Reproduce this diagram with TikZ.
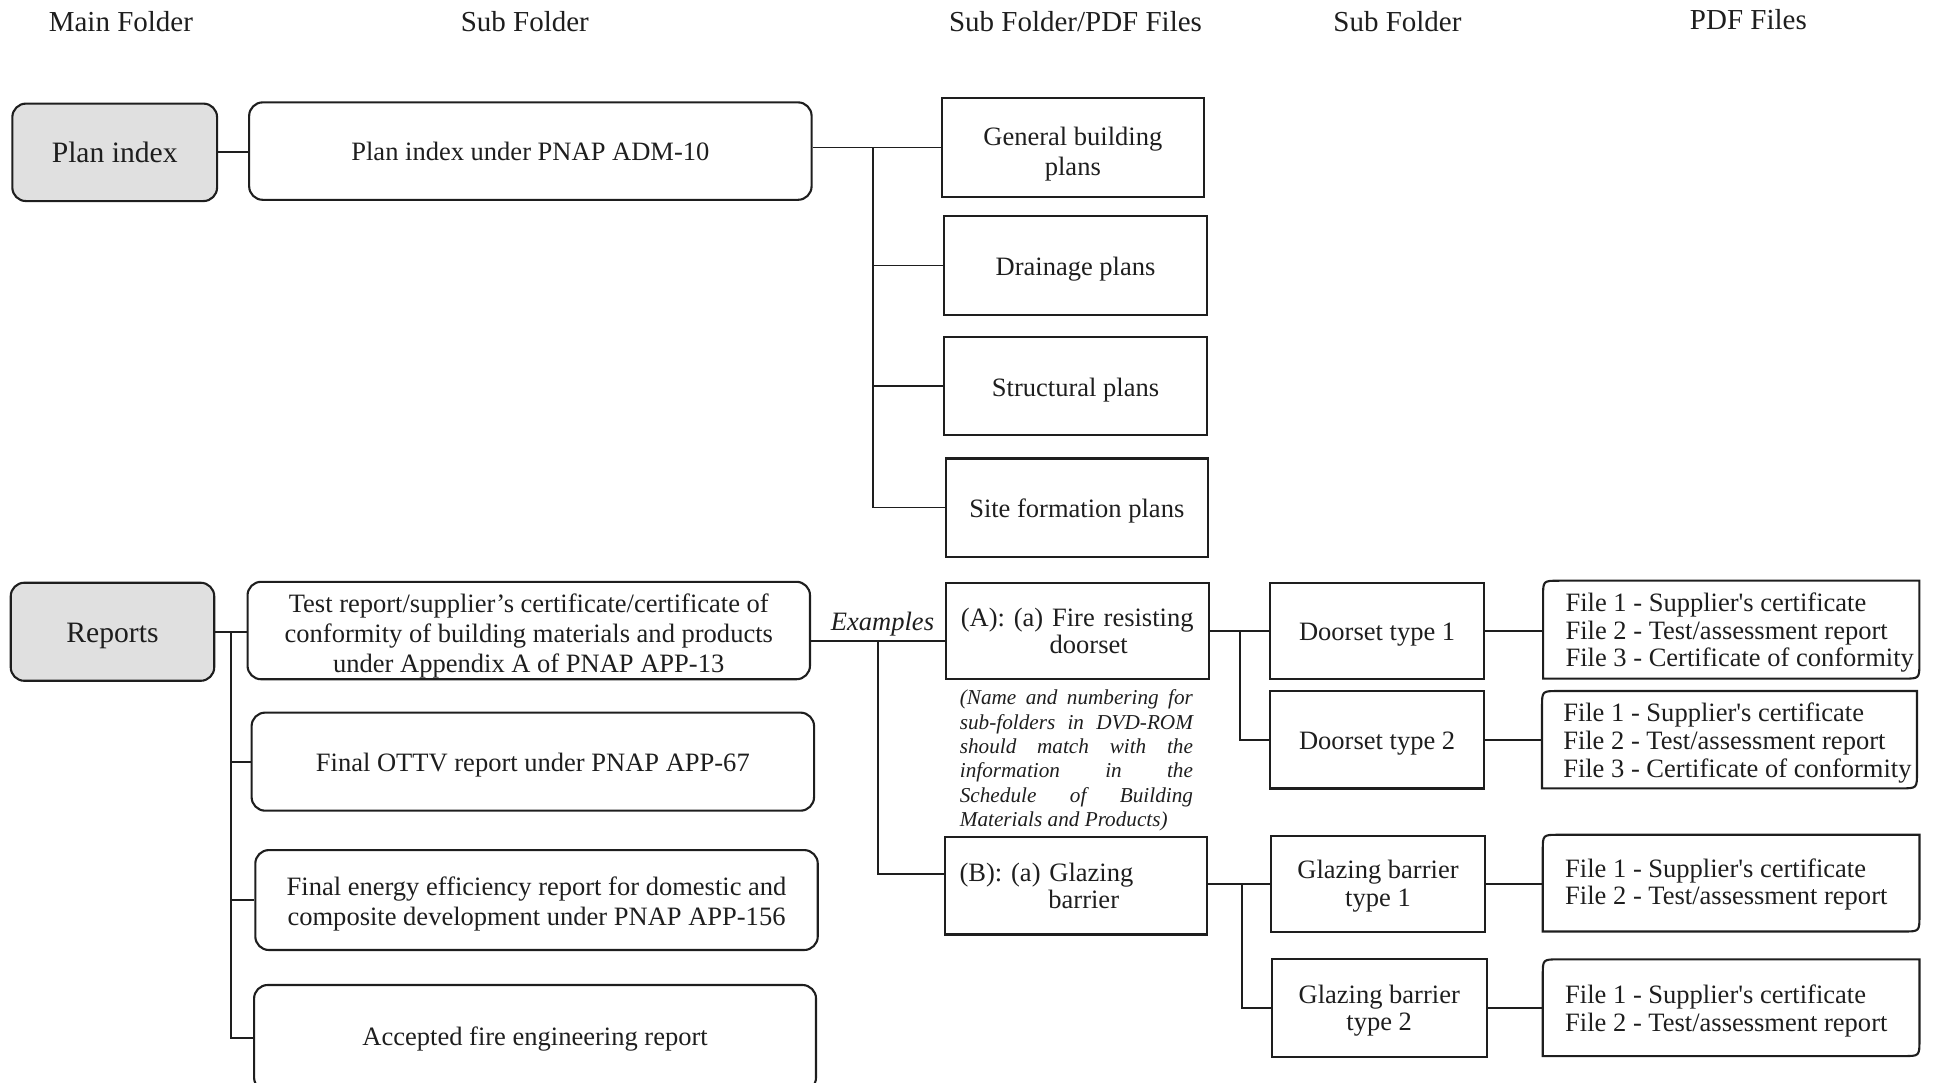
\documentclass[tikz,border=0pt]{standalone}
\usepackage{fontspec}
\setmainfont{Liberation Serif}
\newfontfamily\plainserif{Liberation Serif}
\usetikzlibrary{calc}
\definecolor{boxgray}{RGB}{224,224,224}
\definecolor{ink}{RGB}{30,30,30}
\newcommand{\mylift}[1]{\rule{0pt}{#1}}
\begin{document}
\begin{tikzpicture}[x=1pt,y=-1pt,
  txt/.style={font=\fontsize{21.5}{24.3}\selectfont, text=ink},
  rbox/.style={draw=ink, line width=1.7pt, rounded corners=11pt, inner sep=0pt, align=center, txt},
  gbox/.style={rbox, fill=boxgray, font=\fontsize{24}{26}\selectfont},
  sbox/.style={draw=ink, line width=1.8pt, inner sep=0pt, align=center, txt},
  fbox/.style={draw=none, inner sep=0pt},
  ftext/.style={font=\plainserif\fontsize{21.5}{22.5}\selectfont, text=ink, align=left, inner sep=0pt, anchor=west},
  conn/.style={draw=ink, line width=1.5pt},
  hdr/.style={font=\fontsize{23.5}{26}\selectfont, text=ink, inner sep=0pt, anchor=base},
  fshape/.style={draw=ink, line width=1.7pt},
]
\useasboundingbox (0,0) rectangle (1568,878);
\clip (0,0) rectangle (1568,878);

% headers
\node[hdr] (h1) at (98,25.2) {Main Folder};
\node[hdr] (h2) at (425.5,25.2) {Sub Folder};
\node[hdr] (h3) at (872,25.2) {Sub Folder/PDF Files};
\node[hdr] (h4) at (1133,25.2) {Sub Folder};
\node[hdr] (h5) at (1417.5,24.2) {PDF Files};

% plan index branch
\node[gbox, minimum width=166pt, minimum height=79pt] (pi) at (93,123.5) {Plan index};
\node[rbox, minimum width=456pt, minimum height=79pt] (pisub) at (430,122.5) {Plan index under PNAP ADM-10};
\node[sbox, minimum width=212.5pt, minimum height=80pt] (gbp) at (869.8,119.6) {\mylift{25pt}General building\\plans};
\node[sbox, minimum width=212.8pt, minimum height=80.4pt] (dr) at (872,215.2) {\mylift{21pt}Drainage plans};
\node[sbox, minimum width=212.8pt, minimum height=79.7pt] (st) at (872,312.9) {\mylift{21pt}Structural plans};
\node[sbox, minimum width=212.7pt, minimum height=79.7pt] (sf) at (873,411.5) {\mylift{21pt}Site formation plans};
\coordinate (ptr) at (707.5,119.6);

\draw[conn] (pi.east) -- (pi.east -| pisub.west);
\draw[conn] (pisub.east |- gbp.west) -- (gbp.west);
\draw[conn] (ptr |- gbp.west) -- (ptr |- sf.west) -- (sf.west);
\draw[conn] (ptr |- dr.west) -- (dr.west);
\draw[conn] (ptr |- st.west) -- (st.west);

% reports branch
\node[gbox, minimum width=165pt, minimum height=79.5pt] (rep) at (91.2,512.2) {\mylift{22pt}Reports};
\node[rbox, minimum width=456pt, minimum height=79pt] (test) at (428.7,511.2) {\mylift{24pt}Test report/supplier’s certificate/certificate of\\conformity of building materials and products\\under Appendix A of PNAP APP-13};
\node[rbox, minimum width=456pt, minimum height=79.5pt] (ottv) at (432,617.5) {\mylift{21pt}Final OTTV report under PNAP APP-67};
\node[rbox, minimum width=456pt, minimum height=81pt] (energy) at (435,729.7) {\mylift{21pt}Final energy efficiency report for domestic and\\composite development under PNAP APP-156};
\node[rbox, minimum width=455.6pt, minimum height=86pt] (acc) at (433.8,841.6) {\mylift{17pt}Accepted fire engineering report};
\coordinate (rtr) at (187.6,510.8);

\draw[conn] (rep.east) -- (rep.east -| test.west);
\draw[conn] (rtr |- rep.east) -- (rtr |- acc.west) -- (acc.west);
\draw[conn] (rtr |- ottv.west) -- (ottv.west);
\draw[conn] (rtr |- energy.west) -- (energy.west);

% examples
\node[sbox, minimum width=213pt, minimum height=78pt, text width=189pt, inner xsep=12pt, align=left, font=\fontsize{21.5}{21.8}\selectfont] (A) at (873.5,511.5) {(A): (a) Fire resisting\\\hspace*{72pt}doorset};
\node[sbox, minimum width=212.6pt, minimum height=79.2pt, text width=188.6pt, inner xsep=12pt, align=left, font=\fontsize{21.5}{21.8}\selectfont] (B) at (872.3,718.1) {(B): (a) Glazing\\\hspace*{72pt}barrier};
\node[txt, font=\fontsize{21.5}{24}\selectfont\itshape, inner sep=0pt, anchor=base] (exl) at (715.5,510.8) {Examples};
\node[font=\fontsize{17.2}{19.75}\selectfont\itshape, text=ink, inner sep=0pt, align=left] (note) at (872.7,616.5)
 {\makebox[189pt][s]{(Name and numbering for}\\
  \makebox[189pt][s]{sub-folders in DVD-ROM}\\
  \makebox[189pt][s]{should match with the}\\
  \makebox[189pt][s]{information in the}\\
  \makebox[189pt][s]{Schedule of Building}\\
  Materials and Products)};
\coordinate (ex) at (711.6,519.5);
\coordinate (exb) at (711.6,708.6);
\draw[conn] (test.east |- ex) -- (A.west |- ex);
\draw[conn] (ex) -- (exb) -- (B.west |- exb);

% doorsets
\node[sbox, minimum width=173.7pt, minimum height=78pt] (d1) at (1116.5,511.4) {\mylift{20pt}Doorset type 1};
\node[sbox, minimum width=173.7pt, minimum height=79pt] (d2) at (1116.5,599.7) {\mylift{20pt}Doorset type 2};
\node[sbox, minimum width=173.7pt, minimum height=78pt, font=\fontsize{21.5}{22.2}\selectfont] (g1) at (1117.2,716.5) {\mylift{19pt}Glazing barrier\\type 1};
\node[sbox, minimum width=174.4pt, minimum height=79pt, font=\fontsize{21.5}{22.2}\selectfont] (g2) at (1118.2,817.2) {\mylift{19pt}Glazing barrier\\type 2};
\coordinate (dtr) at (1005.3,511.3);
\coordinate (gtr) at (1006.7,716.7);
\draw[conn] (A.east) -- (A.east -| d1.west);
\draw[conn] (dtr |- A.east) -- (dtr |- d2.west) -- (d2.west);
\draw[conn] (B.east |- g1.west) -- (g1.west);
\draw[conn] (gtr |- g1.west) -- (gtr |- g2.west) -- (g2.west);

% pdf file boxes
\node[fbox, minimum width=304.7pt, minimum height=79pt] (f1) at (1403.6,510.5) {};
\node[fbox, minimum width=303.6pt, minimum height=78.5pt] (f2) at (1402.2,599.7) {};
\node[fbox, minimum width=305pt, minimum height=78pt] (f3) at (1403.5,716) {};
\node[fbox, minimum width=305pt, minimum height=78pt] (f4) at (1403.5,817) {};
\foreach \f in {f1,f2,f3,f4}{
  \draw[fshape] (\f.south west) -- ($(\f.north west)+(0,13)$) .. controls (\f.north west) .. ($(\f.north west)+(13,0)$)
    -- (\f.north east) -- ($(\f.south east)+(0,-13)$) .. controls (\f.south east) .. ($(\f.south east)+(-13,0)$) -- cycle;
}
\node[ftext] (t1) at ($(f1.west)+(18,2.5)$) {File 1 - Supplier's certificate\\File 2 - Test/assessment report\\File 3 - Certificate of conformity};
\node[ftext] (t2) at ($(f2.west)+(17,2.5)$) {File 1 - Supplier's certificate\\File 2 - Test/assessment report\\File 3 - Certificate of conformity};
\node[ftext] (t3) at ($(f3.west)+(18,1)$) {File 1 - Supplier's certificate\\File 2 - Test/assessment report};
\node[ftext] (t4) at ($(f4.west)+(18,2.5)$) {File 1 - Supplier's certificate\\File 2 - Test/assessment report};

\draw[conn] (d1.east) -- (d1.east -| f1.west);
\draw[conn] (d2.east) -- (d2.east -| f2.west);
\draw[conn] (g1.east) -- (g1.east -| f3.west);
\draw[conn] (g2.east) -- (g2.east -| f4.west);
\end{tikzpicture}
\end{document}
